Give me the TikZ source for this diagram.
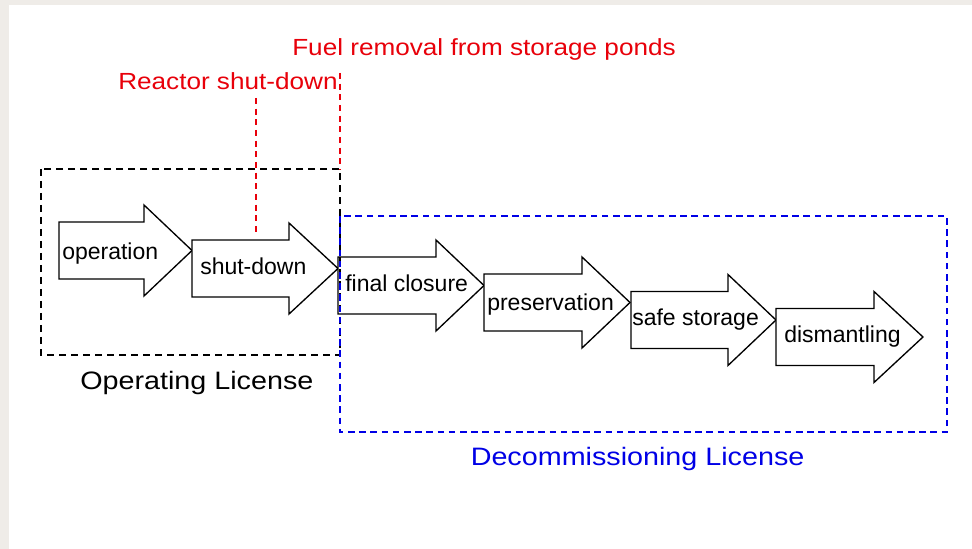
\documentclass[tikz,border=0pt]{standalone}
\usepackage{fontspec}
\setmainfont{Liberation Sans}
\newfontfamily\widefont[FakeStretch=1.12]{Liberation Sans}
\newfontfamily\wideLfont[FakeStretch=1.14]{Liberation Sans}
\definecolor{bggray}{RGB}{239,236,232}
\definecolor{lred}{RGB}{232,0,10}
\definecolor{lblue}{RGB}{0,0,230}
\newcommand\myarrowpath[4]{(#1,#2-28.5) -- (#3,#2-28.5) -- (#3,#2-45.5) -- (#4,#2) -- (#3,#2+45.5) -- (#3,#2+28.5) -- (#1,#2+28.5) -- cycle}
\begin{document}
\begin{tikzpicture}[x=0.75pt,y=-0.75pt,
  blockarrow/.style={draw=black, fill=white, line width=1pt, line join=miter},
  steplabel/.style={anchor=base west, inner sep=0pt, font=\fontsize{17.25pt}{20pt}\selectfont},
  eventlabel/.style={anchor=base west, inner sep=0pt, text=lred, font=\widefont\fontsize{17.5pt}{20pt}\selectfont},
  liclabel/.style={anchor=base west, inner sep=0pt, font=\wideLfont\fontsize{18.9pt}{22pt}\selectfont},
  eventline/.style={draw=lred, line width=1pt, dash pattern=on 4.5pt off 3.5pt},
  opbox/.style={draw=black, line width=1pt, dash pattern=on 5.5pt off 3.5pt},
  decbox/.style={draw=lblue, line width=1pt, dash pattern=on 5pt off 3.4pt}]
\fill[bggray] (0,0) rectangle (972,549);
\fill[white] (9,5) rectangle (972,549);
\useasboundingbox (0,0) rectangle (972,549);

% block arrows
\path[blockarrow] \myarrowpath{59}{250.5}{144}{192};
\path[blockarrow] \myarrowpath{192}{268.5}{289}{338};
\path[blockarrow] \myarrowpath{338}{285.5}{436}{484};
\path[blockarrow] \myarrowpath{484}{302.5}{582}{630};
\path[blockarrow] \myarrowpath{631}{320}{728}{776};
\path[blockarrow] \myarrowpath{776}{337}{874}{923};

% labels in the arrows
\node[steplabel] (lop) at (62,260) {operation};
\node[steplabel] (lsd) at (200,274.5) {shut-down};
\node[steplabel] (lfc) at (345,291.5) {final closure};
\node[steplabel] (lpr) at (487,310.5) {preservation};
\node[steplabel] (lss) at (632,325.5) {safe storage};
\node[steplabel] (ldm) at (784,343) {dismantling};

% license boxes
\draw[opbox] (41,169) rectangle (340,355);
\draw[decbox] (340,216) rectangle (947,432);
\node[liclabel] (oplic) at (80,389) {Operating License};
\node[liclabel, text=lblue] (declic) at (470.5,465) {Decommissioning License};

% events
\node[eventlabel] (rsd) at (118,89.3) {Reactor shut-down};
\node[eventlabel] (frm) at (292,56) {Fuel removal from storage ponds};
\coordinate (rsdtop) at (256,98);
\coordinate (rsdbot) at (256,235);
\coordinate (frmtop) at (340,73);
\coordinate (frmbot) at (340,170);
\draw[eventline] (rsdtop) -- (rsdbot);
\draw[eventline] (frmtop) -- (frmbot);
\end{tikzpicture}
\end{document}
